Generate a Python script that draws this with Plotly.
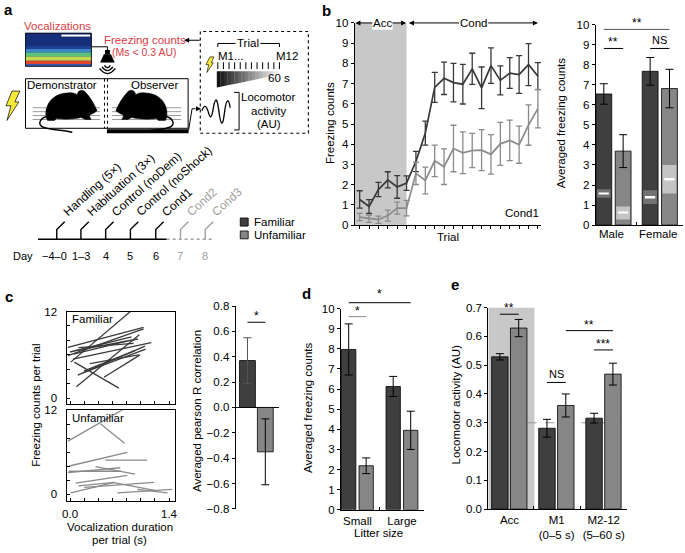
import re
import numpy as np
import plotly.graph_objects as go

W, H = 685, 553
FONT = "Liberation Sans, Arial, sans-serif"
FS = 11.5
DARK = "#3f3f3f"
LIGHT = "#868686"
RED = "#dc3c46"
SHADE = "#c8c8c8"

# ---- data -------------------------------------------------------------
# b: freezing counts per trial (Acc = 1-6, Cond1 = 7-20)
trial = list(range(1, 21))
fam_trial_mean = [1.27, 0.92, 1.76, 2.24, 1.89, 2.08, 3.15, 4.55, 6.81, 7.26,
                  7.05, 6.97, 7.73, 6.79, 7.89, 7.16, 7.52, 7.45, 7.94, 7.37]
fam_trial_sem = [0.43, 0.34, 0.35, 0.40, 0.56, 0.36, 0.50, 0.59, 0.74, 0.80,
                 0.95, 0.98, 0.77, 1.03, 0.88, 0.72, 0.76, 0.93, 1.04, 0.67]
unf_trial_mean = [0.40, 0.32, 0.27, 0.47, 0.84, 0.84, 2.56, 2.21, 3.18, 2.89,
                  3.79, 3.58, 3.69, 3.71, 3.50, 4.02, 4.19, 3.98, 4.95, 5.76]
unf_trial_sem = [0.18, 0.18, 0.18, 0.27, 0.30, 0.38, 0.55, 0.66, 0.78, 0.88,
                 1.15, 1.03, 0.85, 1.01, 0.98, 1.06, 1.00, 0.92, 1.00, 0.95]

# b: averaged freezing by sex (+ inner box of control values)
sex = ["Male", "Female"]
fam_sex_mean = [6.54, 7.67]
fam_sex_sem = [0.51, 0.69]
unf_sex_mean = [3.69, 6.81]
unf_sex_sem = [0.82, 0.96]
fam_box_lo = [1.37, 1.06]
fam_box_hi = [1.79, 1.74]
fam_box_med = [1.58, 1.41]
unf_box_lo = [0.28, 1.58]
unf_box_hi = [0.93, 3.00]
unf_box_med = [0.63, 2.31]

# c: per-animal regression segments (x0, y0) -> (x1, y1)
fam_x0 = [0.01, -0.03, -0.03, 0.00, 0.04, 0.06, 0.09, 0.11, 0.18, 0.28, 0.48, 0.05, 0.20, 0.08, 0.12]
fam_y0 = [5.0, 7.05, 5.9, 6.4, 5.4, 5.0, 1.6, 3.2, 3.5, 4.8, 2.9, 6.1, 3.8, 6.6, 7.0]
fam_x1 = [0.89, 1.04, 1.04, 0.87, 1.15, 0.69, 0.98, 1.06, 1.07, 0.97, 0.99, 0.80, 0.92, 0.96, 0.90]
fam_y1 = [12.3, 9.8, 9.6, 8.5, 7.7, 1.4, 8.8, 7.2, 6.8, 6.0, 6.0, 7.9, 6.6, 8.2, 7.6]
unf_x0 = [-0.03, 0.43, -0.01, 0.50, -0.03, -0.02, 0.36, 0.08, 0.12, 0.01, 0.20, 0.60, 0.67, 0.95]
unf_y0 = [7.6, 10.1, 4.05, 4.9, 3.1, 3.3, 3.95, 1.6, 1.2, 0.2, 1.0, 1.7, 0.2, 0.7]
unf_x1 = [0.78, 0.77, 0.81, 1.09, 0.71, 0.72, 0.92, 0.81, 0.63, 0.63, 1.19, 1.20, 1.44, 1.38]
unf_y1 = [12.3, 7.3, 6.0, 4.9, 3.8, 3.3, 2.9, 2.7, 1.7, 1.7, 1.7, 0.56, 0.7, 0.2]

# c: averaged pearson R
corr_mean = [0.37, -0.35]
corr_sem = [0.18, 0.26]

# d: litter size
litter = ["Small", "Large"]
fam_litter_mean = [7.97, 6.13]
fam_litter_sem = [1.27, 0.50]
unf_litter_mean = [2.19, 3.95]
unf_litter_sem = [0.39, 0.95]

# e: locomotor activity
phase = ["Acc", "M1<br>(0–5 s)", "M2-12<br>(5–60 s)"]
fam_loco_mean = [0.529, 0.281, 0.316]
fam_loco_sem = [0.011, 0.031, 0.017]
unf_loco_mean = [0.629, 0.360, 0.469]
unf_loco_sem = [0.030, 0.040, 0.038]

# a: timeline
days = ["−4–0", "1–3", "4", "5", "6", "7", "8"]
events = ["Handling (5×)", "Habituation (3×)", "Control (noDem)",
          "Control (noShock)", "Cond1", "Cond2", "Cond3"]


# ---- helpers ----------------------------------------------------------
def fx(p):
    return p / W


def fy(p):
    return 1 - p / H


PAIR = re.compile(r'(-?\d+(?:\.\d+)?),(-?\d+(?:\.\d+)?)')


def path_px(s, x0=0, y0=0, flip=None):
    # convert an svg path written in pixel coords to paper coords
    def conv(m):
        x, y = float(m.group(1)), float(m.group(2))
        if flip is not None:
            x = flip - x
        return "%.5f,%.5f" % (fx(x0 + x), fy(y0 + y))
    return PAIR.sub(conv, s)


def note(text, x, y, size=FS, color="black", xa="center", ya="middle",
         angle=0, bold=False, bg=None):
    d = dict(text="<b>%s</b>" % text if bold else text, x=fx(x), y=fy(y),
             xref="paper", yref="paper", showarrow=False, xanchor=xa,
             yanchor=ya, textangle=angle,
             font=dict(size=size, color=color, family=FONT))
    if bg:
        d["bgcolor"] = bg
    return d


def line_px(x0, y0, x1, y1, color="black", width=1, dash=None):
    ln = dict(color=color, width=width)
    if dash:
        ln["dash"] = dash
    return dict(type="line", xref="paper", yref="paper", x0=fx(x0), y0=fy(y0),
                x1=fx(x1), y1=fy(y1), line=ln)


def rect_px(x0, y0, x1, y1, fill, color=None, width=0, dash=None):
    ln = dict(color=color or fill, width=width)
    if dash:
        ln["dash"] = dash
    return dict(type="rect", xref="paper", yref="paper", x0=fx(x0), y0=fy(y1),
                x1=fx(x1), y1=fy(y0), fillcolor=fill, line=ln)


def poly(s, fill="black", color="black", width=0.5, **kw):
    return dict(type="path", xref="paper", yref="paper", path=path_px(s, **kw),
                fillcolor=fill, line=dict(color=color, width=width))


def segs(x0, y0, x1, y1):
    xs, ys = [], []
    for a, b, c, d in zip(x0, y0, x1, y1):
        xs += [a, c, None]
        ys += [b, d, None]
    return xs, ys


def axis(**kw):
    base = dict(showgrid=False, zeroline=False, showline=True, linecolor="black",
                linewidth=1, ticks="outside", ticklen=3, tickcolor="black",
                tickangle=0, tickfont=dict(size=FS, family=FONT, color="black"))
    base.update(kw)
    return base


shapes = []
ann = []
fig = go.Figure()

# ---- panel b: line chart ----------------------------------------------
for mean, sem, col in [(fam_trial_mean, fam_trial_sem, "#383838"),
                       (unf_trial_mean, unf_trial_sem, "#8a8a8a")]:
    fig.add_trace(go.Scatter(
        x=trial, y=mean, mode="lines", xaxis="x", yaxis="y",
        line=dict(color=col, width=1.7),
        error_y=dict(type="data", array=sem, color=col, thickness=1.3, width=3)))
shapes.append(dict(type="rect", xref="x", yref="y", x0=0.47, x1=6, y0=0, y1=10,
                   fillcolor=SHADE, line=dict(width=0), layer="below"))
for head in [0.55, 5.95]:
    ann.append(dict(text="Acc", x=head, y=10, ax=3.43, ay=10, axref="x", ayref="y",
                    xref="x", yref="y", showarrow=True, arrowhead=2, arrowsize=1,
                    arrowwidth=1, arrowcolor="black", bgcolor="white", borderpad=0,
                    font=dict(size=FS, family=FONT)))
for head in [6.25, 20.0]:
    ann.append(dict(text="Cond", x=head, y=10, ax=13.16, ay=10, axref="x", ayref="y",
                    xref="x", yref="y", showarrow=True, arrowhead=2, arrowsize=1,
                    arrowwidth=1, arrowcolor="black", bgcolor="white", borderpad=0,
                    font=dict(size=FS, family=FONT)))
ann.append(dict(text="Cond1", x=20.3, y=0.6, xref="x", yref="y", showarrow=False,
                xanchor="right", font=dict(size=FS, family=FONT)))
ann.append(note("Trial", 448, 236))
ann.append(note("Freezing counts", 329, 120, angle=-90))

# ---- panel b: bars by sex ---------------------------------------------
def bar_pair(x, fm, fs, um, us, xa, ya, off_d, off_l, wd, err_col="black"):
    fig.add_trace(go.Bar(x=x, y=fm, xaxis=xa, yaxis=ya, offset=off_d, width=wd,
                         marker=dict(color=DARK, line=dict(color="black", width=0.8)),
                         error_y=dict(type="data", array=fs, color=err_col,
                                      thickness=1, width=4)))
    fig.add_trace(go.Bar(x=x, y=um, xaxis=xa, yaxis=ya, offset=off_l, width=wd,
                         marker=dict(color=LIGHT, line=dict(color="black", width=0.8)),
                         error_y=dict(type="data", array=us, color="black",
                                      thickness=1, width=4)))


bar_pair(sex, fam_sex_mean, fam_sex_sem, unf_sex_mean, unf_sex_sem,
         "x2", "y2", -0.38, 0.037, 0.342)
for lo, hi, med, off, col in [(fam_box_lo, fam_box_hi, fam_box_med, -0.38, "#727272"),
                              (unf_box_lo, unf_box_hi, unf_box_med, 0.037, "#c4c4c4")]:
    fig.add_trace(go.Bar(x=sex, y=[h - l for h, l in zip(hi, lo)], base=lo,
                         xaxis="x2", yaxis="y2", offset=off + 0.02, width=0.30,
                         marker=dict(color=col, line=dict(width=0))))
    fig.add_trace(go.Bar(x=sex, y=[0.09] * len(sex), base=[m - 0.045 for m in med],
                         xaxis="x2", yaxis="y2", offset=off + 0.06, width=0.22,
                         marker=dict(color="white", line=dict(width=0))))
ann.append(note("Averaged freezing counts", 562.5, 120, angle=-90))
# category labels written as text so "Female" stays inside the page
ann.append(note(sex[0], 612.5, 233))
ann.append(note(sex[1], 660, 233))


def sig(xa, ya, x0, x1, y, text, color="black", yshift=-3):
    shapes.append(dict(type="line", xref=xa, yref=ya, x0=x0, x1=x1, y0=y, y1=y,
                       line=dict(color=color, width=1)))
    ann.append(dict(text=text, x=(x0 + x1) / 2, y=y, xref=xa, yref=ya,
                    showarrow=False, yanchor="bottom", yshift=yshift,
                    font=dict(size=11 if text == "NS" else 12, family=FONT)))


sig("x2", "y2", -0.209, 1.208, 9.76, "**", color="#555555")
sig("x2", "y2", -0.209, 0.208, 8.81, "**")
sig("x2", "y2", 0.791, 1.208, 8.81, "NS", yshift=0)

# ---- panel c: segments --------------------------------------------------
fx0, fy0 = segs(fam_x0, fam_y0, fam_x1, fam_y1)
fig.add_trace(go.Scatter(x=fx0, y=fy0, mode="lines", xaxis="x3", yaxis="y3",
                         line=dict(color="#3a3a3a", width=1.3)))
ux0, uy0 = segs(unf_x0, unf_y0, unf_x1, unf_y1)
fig.add_trace(go.Scatter(x=ux0, y=uy0, mode="lines", xaxis="x4", yaxis="y4",
                         line=dict(color="#8a8a8a", width=1.3)))
ann.append(note("Familiar", 66, 320, xa="left"))
ann.append(note("Unfamiliar", 66, 421, xa="left"))
ann.append(note("Freezing counts per trial", 31, 408, angle=-90))
ann.append(note("Vocalization duration", 116, 532.5))
ann.append(note("per trial (s)", 116, 545.5))

# ---- panel c: pearson R --------------------------------------------------
fig.add_trace(go.Bar(x=["R"], y=[corr_mean[0]], xaxis="x5", yaxis="y5",
                     offset=-0.41, width=0.364,
                     marker=dict(color=DARK, line=dict(color="black", width=0.8)),
                     error_y=dict(type="data", array=[corr_sem[0]], color="#555555",
                                  thickness=1, width=4)))
fig.add_trace(go.Bar(x=["R"], y=[corr_mean[1]], xaxis="x5", yaxis="y5",
                     offset=0.0, width=0.364,
                     marker=dict(color=LIGHT, line=dict(color="black", width=0.8)),
                     error_y=dict(type="data", array=[corr_sem[1]], color="black",
                                  thickness=1, width=4)))
sig("x5", "y5", -0.228, 0.182, 0.672, "*")
ann.append(note("Averaged pearson R correlation", 194, 414, angle=-90))

# ---- panel d -----------------------------------------------------------
bar_pair(litter, fam_litter_mean, fam_litter_sem, unf_litter_mean, unf_litter_sem,
         "x6", "y6", -0.359, 0.034, 0.322)
sig("x6", "y6", -0.198, 0.195, 9.6, "*", color="#8a8a8a")
shapes.append(line_px(347.3, 303.3, 410, 303.3))
ann.append(note("*", 378.7, 303.3, size=12, ya="bottom"))
ann.append(note("Averaged freezing counts", 306, 411, angle=-90))
ann.append(note("Litter size", 377, 538.5))

# ---- panel e -----------------------------------------------------------
shapes.append(dict(type="rect", xref="x7", yref="y7", x0=-0.45, x1=0.53, y0=0, y1=0.7,
                   fillcolor=SHADE, line=dict(width=0), layer="below"))
shapes.append(dict(type="line", xref="x7", yref="y7", x0=0.38, x1=2.38, y0=0.3, y1=0.3,
                   line=dict(color="#9a9a9a", width=1, dash="dash"), layer="below"))
bar_pair(phase, fam_loco_mean, fam_loco_sem, unf_loco_mean, unf_loco_sem,
         "x7", "y7", -0.38, 0.02, 0.35)
sig("x7", "y7", -0.205, 0.195, 0.677, "**")
sig("x7", "y7", 0.795, 1.195, 0.44, "NS", yshift=0)
sig("x7", "y7", 1.795, 2.195, 0.553, "***")
sig("x7", "y7", 1.195, 2.195, 0.62, "**")
ann.append(note("Locomotor activity (AU)", 456, 407, angle=-90))

# ---- panel a: setup drawing -------------------------------------------
ann.append(note("Vocalizations", 53, 20, color=RED))
for y0, y1, col in [(27.7, 61.7, "#1d3f96"), (27.7, 41, "#172f7a"),
                    (44, 47.5, "#3b86c9"), (47.5, 51.5, "#5cc27a"),
                    (51.5, 56, "#c6d84c"), (56, 59.5, "#e0452e"),
                    (59.5, 61.7, "#3a58b0")]:
    shapes.append(rect_px(20.7, y0, 87.3, y1, col))
shapes.append(rect_px(20.7, 27.7, 87.3, 61.7, "rgba(0,0,0,0)", "black", 0.8))
shapes.append(line_px(57, 30.2, 86, 30.2, "white", 2))
# speaker
shapes.append(poly("M 87.3,41.7 L 103.5,41.7 L 103.5,45", fill="rgba(0,0,0,0)", width=1))
shapes.append(rect_px(101, 45, 106, 49.5, "black"))
shapes.append(poly("M 100,49.5 L 107,49.5 L 110.5,57.5 L 96.5,57.5 Z"))
for r in [3, 5.5, 8]:
    shapes.append(poly("M %.1f,%.1f Q 103.5,%.1f %.1f,%.1f" % (103.5 - r, 59 + r * 0.6,
                                                             60 + r * 1.8, 103.5 + r, 59 + r * 0.6),
                       fill="rgba(0,0,0,0)", width=1.4))
ann.append(note("Freezing counts", 141, 35, color=RED))
ann.append(note("(Ms < 0.3 AU)", 140, 47.5, color=RED, size=10.5))
ann.append(dict(x=fx(181), y=fy(35), xref="paper", yref="paper", ax=17, ay=0,
                text="", showarrow=True, arrowhead=2, arrowsize=1, arrowwidth=1,
                arrowcolor="black"))
# arena
for yl in [104, 108, 112, 116]:
    shapes.append(line_px(28, yl, 96, yl, "#9a9a9a", 1))
    shapes.append(line_px(108, yl, 178, yl, "#9a9a9a", 1))
shapes.append(rect_px(20.7, 74.3, 185, 125, "rgba(0,0,0,0)", "black", 1))
shapes.append(rect_px(103, 126, 185.5, 130, "black"))
shapes.append(line_px(100.5, 74.3, 100.5, 125, "black", 1, "dot"))
shapes.append(line_px(103.5, 74.3, 103.5, 125, "black", 1, "dot"))
MOUSE = ("M 2,29 C -1,18 6,4 22,3 C 28,2 31,3 33,5 C 33,0 39,-2 42,3 "
         "C 46,7 50,14 53,21 C 51,23 48,24 45,26 L 47,30 L 41,30 L 37,28 "
         "C 28,30 18,30 12,29 L 10,31 L 3,31 Z")
TAIL = "M 3,27 C -4,28 -7,34 -3,37 C 3,41 16,40 28,43"
shapes.append(poly(MOUSE, x0=40, y0=86))
shapes.append(poly(TAIL, x0=40, y0=86, fill="rgba(0,0,0,0)", width=1.4))
shapes.append(poly(MOUSE, x0=112, y0=86, flip=53))
shapes.append(poly(TAIL, x0=112, y0=86, flip=53, fill="rgba(0,0,0,0)", width=1.4))
ann.append(note("Demonstrator", 57.5, 80.5))
ann.append(note("Observer", 151, 80.5))
BOLT = "M 7,0 L 15,0 L 10,11 L 14,11 L 2,30 L 6,15 L 1,15 Z"
shapes.append(poly(BOLT, x0=0, y0=87, fill="#f6e83b", width=0.7))
# trial box
shapes.append(rect_px(197.3, 26, 306.5, 130, "rgba(0,0,0,0)", "black", 1.1, "dot"))
shapes.append(poly("M 215,42 L 215,38.3 L 277.3,38.3 L 277.3,42",
                   fill="rgba(0,0,0,0)", width=1))
ann.append(note("Trial", 246, 38.3, bg="white"))
ann.append(note("M1...", 213, 51, xa="left"))
ann.append(note("M12", 298, 51, xa="right"))
for xt in np.linspace(215, 277.3, 12):
    shapes.append(line_px(xt, 57.5, xt, 64.5, "black", 1))
n_sl = 18
edges = np.linspace(214, 278, n_sl + 1)
for i in range(n_sl):
    xa, xb = edges[i], edges[i + 1]
    ya = 83.3 - (xa - 214) / 64 * 13.3
    yb = 83.3 - (xb - 214) / 64 * 13.3
    g = int(20 + 225 * i / (n_sl - 1))
    col = "rgb(%d,%d,%d)" % (g, g, g)
    shapes.append(poly("M %.2f,66.7 L %.2f,66.7 L %.2f,%.2f L %.2f,%.2f Z"
                       % (xa, xb + 0.3, xb + 0.3, yb, xa, ya), fill=col, color=col, width=0))
ann.append(note("60 s", 290, 74, xa="right"))
shapes.append(poly("M 5,0 L 9,0 L 6.5,6 L 8.5,6 L 2,16 L 3.8,8 L 1,8 Z",
                   x0=202, y0=52, fill="#f6e83b", width=0.6))
shapes.append(poly("M 199,107 C 201,101 203,101 205,107 C 207,115 208.5,116 210,107 "
                   "C 212,94 214,91 216,107 C 218,123 220,125 222,107 "
                   "C 224,93 226,95 227.5,104", fill="rgba(0,0,0,0)", width=1.3))
shapes.append(poly("M 231.5,88.3 L 236.5,88.3 L 236.5,126.7 L 231.5,126.7",
                   fill="rgba(0,0,0,0)", width=1))
ann.append(note("Locomotor", 266.5, 93.5))
ann.append(note("activity", 266.5, 107))
ann.append(note("(AU)", 266.5, 120.5))
shapes.append(poly("M 185.5,127 L 189,105 L 192,105", fill="rgba(0,0,0,0)", width=1))
ann.append(dict(x=fx(198), y=fy(105), xref="paper", yref="paper", ax=-7, ay=0,
                text="", showarrow=True, arrowhead=2, arrowsize=1, arrowwidth=1,
                arrowcolor="black"))

# timeline
tick_px = [52.3, 76.7, 101.7, 126.7, 152.3, 177.3, 202.3]
TL_Y = 238.3
shapes.append(line_px(33.3, TL_Y, 163.3, TL_Y, "black", 1.5))
shapes.append(line_px(163.3, TL_Y, 212, TL_Y, "#a0a0a0", 1.5, "dot"))
ann.append(note("Day", 18, 255.5, size=11))
for i, (xt, dlab, ev) in enumerate(zip(tick_px, days, events)):
    col = "black" if i < 5 else "#a0a0a0"
    shapes.append(poly("M %.1f,%.1f L %.1f,228.5 L %.1f,220.5" % (xt, TL_Y, xt, xt + 8),
                       fill="rgba(0,0,0,0)", color=col, width=1.4))
    ann.append(note(ev, xt + 0.5, 220.5, size=12, color=col, xa="left", ya="bottom",
                    angle=-42))
    ann.append(note(dlab, xt - (2 if i == 0 else 0), 255.5, size=11, color=col))
# legend
shapes.append(rect_px(237.7, 216.7, 245.7, 225, DARK, "black", 0.8))
shapes.append(rect_px(237.7, 230, 245.7, 238, LIGHT, "black", 0.8))
ann.append(note("Familiar", 250, 221, xa="left"))
ann.append(note("Unfamiliar", 250, 234.3, xa="left"))

# panel letters
for lab, x, y in [("a", 4, 4), ("b", 325, 5), ("c", 4, 297), ("d", 305, 293.5),
                  ("e", 455, 285)]:
    ann.append(note(lab, x, y, size=15, bold=True))

# ---- layout -----------------------------------------------------------
fig.update_layout(
    width=W, height=H, margin=dict(l=0, r=0, t=0, b=0),
    paper_bgcolor="white", plot_bgcolor="white", barmode="overlay",
    showlegend=False, font=dict(family=FONT, size=FS, color="black"),
    xaxis=axis(domain=[fx(353.3), fx(541.7)], range=[0.47, 20.35], anchor="y",
               tickvals=trial, showticklabels=False),
    yaxis=axis(domain=[fy(224), fy(17.3)], range=[0, 10], dtick=1, anchor="x"),
    xaxis2=axis(domain=[fx(596.7), 1.0], range=[-0.386, 1.5], anchor="y2",
                type="category", tickson="boundaries", ticks="inside",
                showticklabels=False),
    yaxis2=axis(domain=[fy(224), fy(19)], range=[0, 10], dtick=1, anchor="x2"),
    xaxis3=axis(domain=[fx(63), fx(172)], range=[-0.038, 1.488], anchor="y3",
                mirror=True, ticks="inside", tickvals=[0, 0.2, 0.4, 0.6, 0.8, 1.0, 1.2, 1.4],
                showticklabels=False),
    yaxis3=axis(domain=[fy(406.5), fy(312.3)], range=[-0.75, 12], anchor="x3",
                mirror=True, ticks="inside", tickvals=[0, 2, 4, 6, 8, 10, 12],
                ticktext=["0", "", "", "", "", "", "12"], ticklabelstandoff=7),
    xaxis4=axis(domain=[fx(63), fx(172)], range=[-0.038, 1.488], anchor="y4",
                mirror=True, ticks="inside", tickvals=[0, 0.2, 0.4, 0.6, 0.8, 1.0, 1.2, 1.4],
                ticktext=["0.0", "", "", "", "", "", "", "1.4"], ticklabelstandoff=2),
    yaxis4=axis(domain=[fy(506), fy(413.3)], range=[-0.95, 12], anchor="x4",
                mirror=True, ticks="inside", tickvals=[0, 2, 4, 6, 8, 10, 12],
                ticktext=["0", "", "", "", "", "", "12"], ticklabelstandoff=7),
    xaxis5=axis(domain=[fx(233), fx(277)], range=[-0.5, 0.5], anchor="y5",
                showline=False, ticks="", showticklabels=False),
    yaxis5=axis(domain=[fy(514), fy(306.7)], range=[-0.8, 0.8], anchor="x5",
                tickvals=[-0.8, -0.6, -0.4, -0.2, 0, 0.2, 0.4, 0.6, 0.8],
                tickformat=".1f", zeroline=True, zerolinecolor="black", zerolinewidth=1),
    xaxis6=axis(domain=[fx(339.3), fx(423.6)], range=[-0.374, 1.5], anchor="y6",
                type="category", tickson="boundaries", ticks="inside"),
    yaxis6=axis(domain=[fy(515), fy(309.3)], range=[0, 10], dtick=1, anchor="x6"),
    xaxis7=axis(domain=[fx(488.3), fx(628.7)], range=[-0.45, 2.5], anchor="y7",
                type="category", tickson="boundaries", ticks="inside"),
    yaxis7=axis(domain=[fy(514.3), fy(308.3)], range=[0, 0.7], dtick=0.1,
                tickformat=".1f", anchor="x7"),
    shapes=shapes,
    annotations=ann,
)

# page body has a default 8px margin; drop it so the figure fills the window
fig.write_html("out.html", config={"displayModeBar": False},
               post_script="document.body.style.margin = '0';")
